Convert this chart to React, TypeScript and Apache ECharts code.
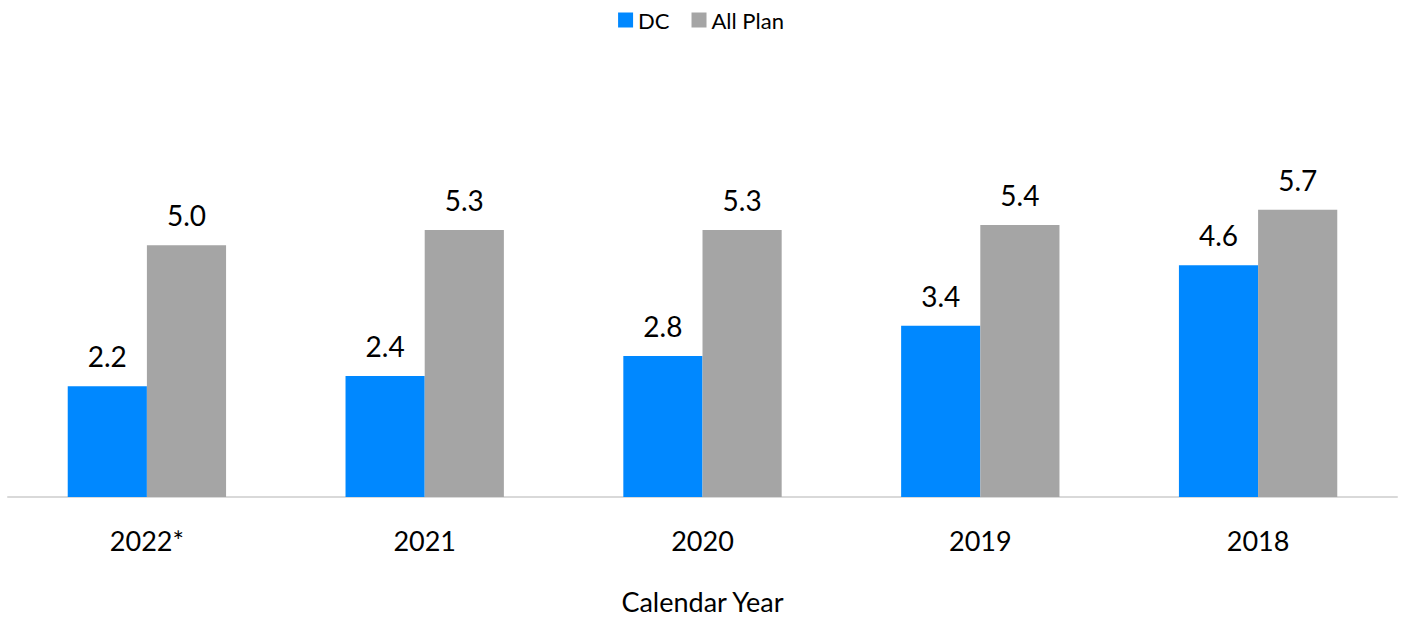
import React, { useEffect, useRef } from "react";
import * as echarts from "echarts";

const categories = ["2022*", "2021", "2020", "2019", "2018"];
const dcValues = [2.2, 2.4, 2.8, 3.4, 4.6];
const allPlanValues = [5.0, 5.3, 5.3, 5.4, 5.7];
const seriesNames = ["DC", "All Plan"];

const FONT = "Lato, 'Noto Sans', sans-serif";

export default function App() {
  const ref = useRef<HTMLDivElement>(null);
  useEffect(() => {
    if (!ref.current) return;
    const chart = echarts.init(ref.current, undefined, { renderer: "svg" });
    const label = {
      show: true,
      position: "top",
      distance: 16,
      color: "#000",
      fontSize: 28,
      fontFamily: FONT,
      formatter: (p: any) => Number(p.value).toFixed(1),
    };
    chart.setOption({
      animation: false,
      textStyle: { fontFamily: FONT },
      legend: {
        top: 4,
        left: "center",
        itemWidth: 15,
        itemHeight: 15,
        itemGap: 22,
        icon: "rect",
        textStyle: { fontSize: 22, color: "#000", fontFamily: FONT },
        data: seriesNames,
      },
      grid: { left: 8, right: 5, top: 94, bottom: 118 },
      xAxis: {
        type: "category",
        data: categories,
        axisLine: { show: true, lineStyle: { color: "#d9d9d9", width: 2 } },
        axisTick: { show: false },
        axisLabel: { fontSize: 27, color: "#000", margin: 30, fontFamily: FONT },
        name: "Calendar Year",
        nameLocation: "middle",
        nameGap: 91,
        nameTextStyle: { fontSize: 27, color: "#000", fontFamily: FONT },
      },
      yAxis: {
        type: "value",
        min: 0,
        max: 8,
        show: false,
        splitLine: { show: false },
      },
      series: [
        {
          name: seriesNames[0],
          type: "bar",
          data: dcValues,
          barGap: "0%",
          barCategoryGap: "43%",
          itemStyle: { color: "#0088ff" },
          label,
        },
        {
          name: seriesNames[1],
          type: "bar",
          data: allPlanValues,
          barGap: "0%",
          barCategoryGap: "43%",
          itemStyle: { color: "#a5a5a5" },
          label,
        },
      ],
    });
    return () => chart.dispose();
  }, []);
  return (
    <div
      ref={ref}
      style={{ position: "fixed", left: 0, top: 0, width: 1402, height: 620, background: "#fff" }}
    />
  );
}
